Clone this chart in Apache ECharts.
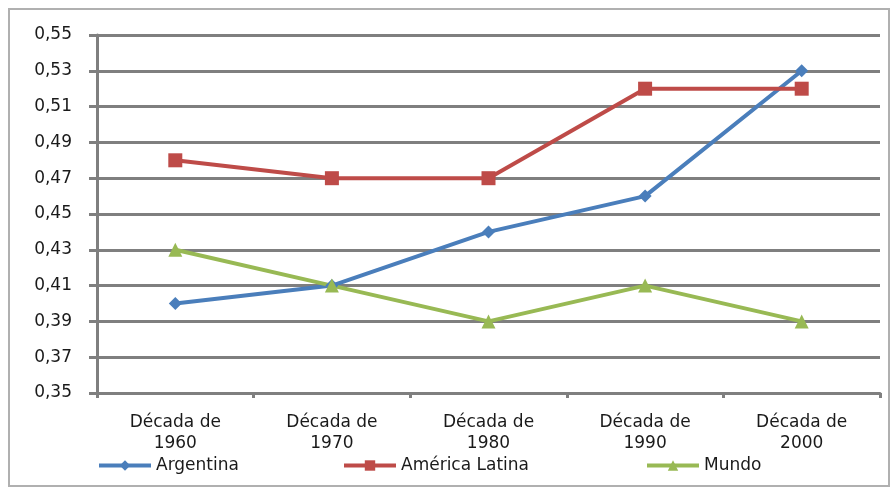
<!DOCTYPE html>
<html>
<head>
<meta charset="utf-8">
<script src="https://cdn.jsdelivr.net/npm/echarts@6/dist/echarts.min.js"></script>
<style>html,body{margin:0;padding:0;background:#fff}#c{width:895px;height:490px}</style>
</head>
<body>
<div id="c"></div>
<script>
const categories = ['Década de\n1960', 'Década de\n1970', 'Década de\n1980', 'Década de\n1990', 'Década de\n2000'];
const argentina = [0.40, 0.41, 0.44, 0.46, 0.53];
const americaLatina = [0.48, 0.47, 0.47, 0.52, 0.52];
const mundo = [0.43, 0.41, 0.39, 0.41, 0.39];
const seriesNames = ['Argentina', 'América Latina', 'Mundo'];
const colors = ['#4a7ebb', '#be4b48', '#98b954'];

const chart = echarts.init(document.getElementById('c'), null, {renderer: 'canvas'});
const font = 'DejaVu Sans, Liberation Sans, Arial, sans-serif';
const legendLefts = [97, 342, 645];
chart.setOption({
  animation: false,
  textStyle: {fontFamily: font},
  graphic: [{
    type: 'rect', z: -1,
    shape: {x: 9, y: 9, width: 880, height: 477},
    style: {fill: 'none', stroke: '#b0b0b0', lineWidth: 2}
  }],
  grid: {left: 97, right: 15, top: 35, bottom: 97, containLabel: false},
  legend: seriesNames.map((n, i) => ({
    left: legendLefts[i], top: 457, padding: 0, itemWidth: 52, itemHeight: 13, itemGap: 0,
    lineStyle: {width: 4},
    textStyle: {fontSize: 17, color: '#1a1a1a', fontFamily: font},
    data: [n]
  })),
  xAxis: {
    type: 'category', data: categories, boundaryGap: true,
    axisLine: {lineStyle: {color: '#7f7f7f', width: 3}},
    axisTick: {show: true, length: 5, lineStyle: {color: '#7f7f7f', width: 3}},
    axisLabel: {fontSize: 17, color: '#1a1a1a', lineHeight: 21, margin: 19, fontFamily: font}
  },
  yAxis: {
    type: 'value', min: 0.35, max: 0.55, interval: 0.02,
    axisLine: {show: true, lineStyle: {color: '#7f7f7f', width: 3}},
    axisTick: {show: true, length: 8, lineStyle: {color: '#7f7f7f', width: 3}},
    splitLine: {lineStyle: {color: '#7f7f7f', width: 3}},
    axisLabel: {fontSize: 17, color: '#1a1a1a', margin: 25, fontFamily: font,
      formatter: v => v.toFixed(2).replace('.', ',')}
  },
  series: seriesNames.map((n, i) => ({
    name: n, type: 'line',
    data: [argentina, americaLatina, mundo][i],
    symbol: ['diamond', 'rect', 'triangle'][i],
    symbolSize: [13, 14, 14][i],
    lineStyle: {color: colors[i], width: 4},
    itemStyle: {color: colors[i]}
  }))
});
</script>
</body>
</html>
